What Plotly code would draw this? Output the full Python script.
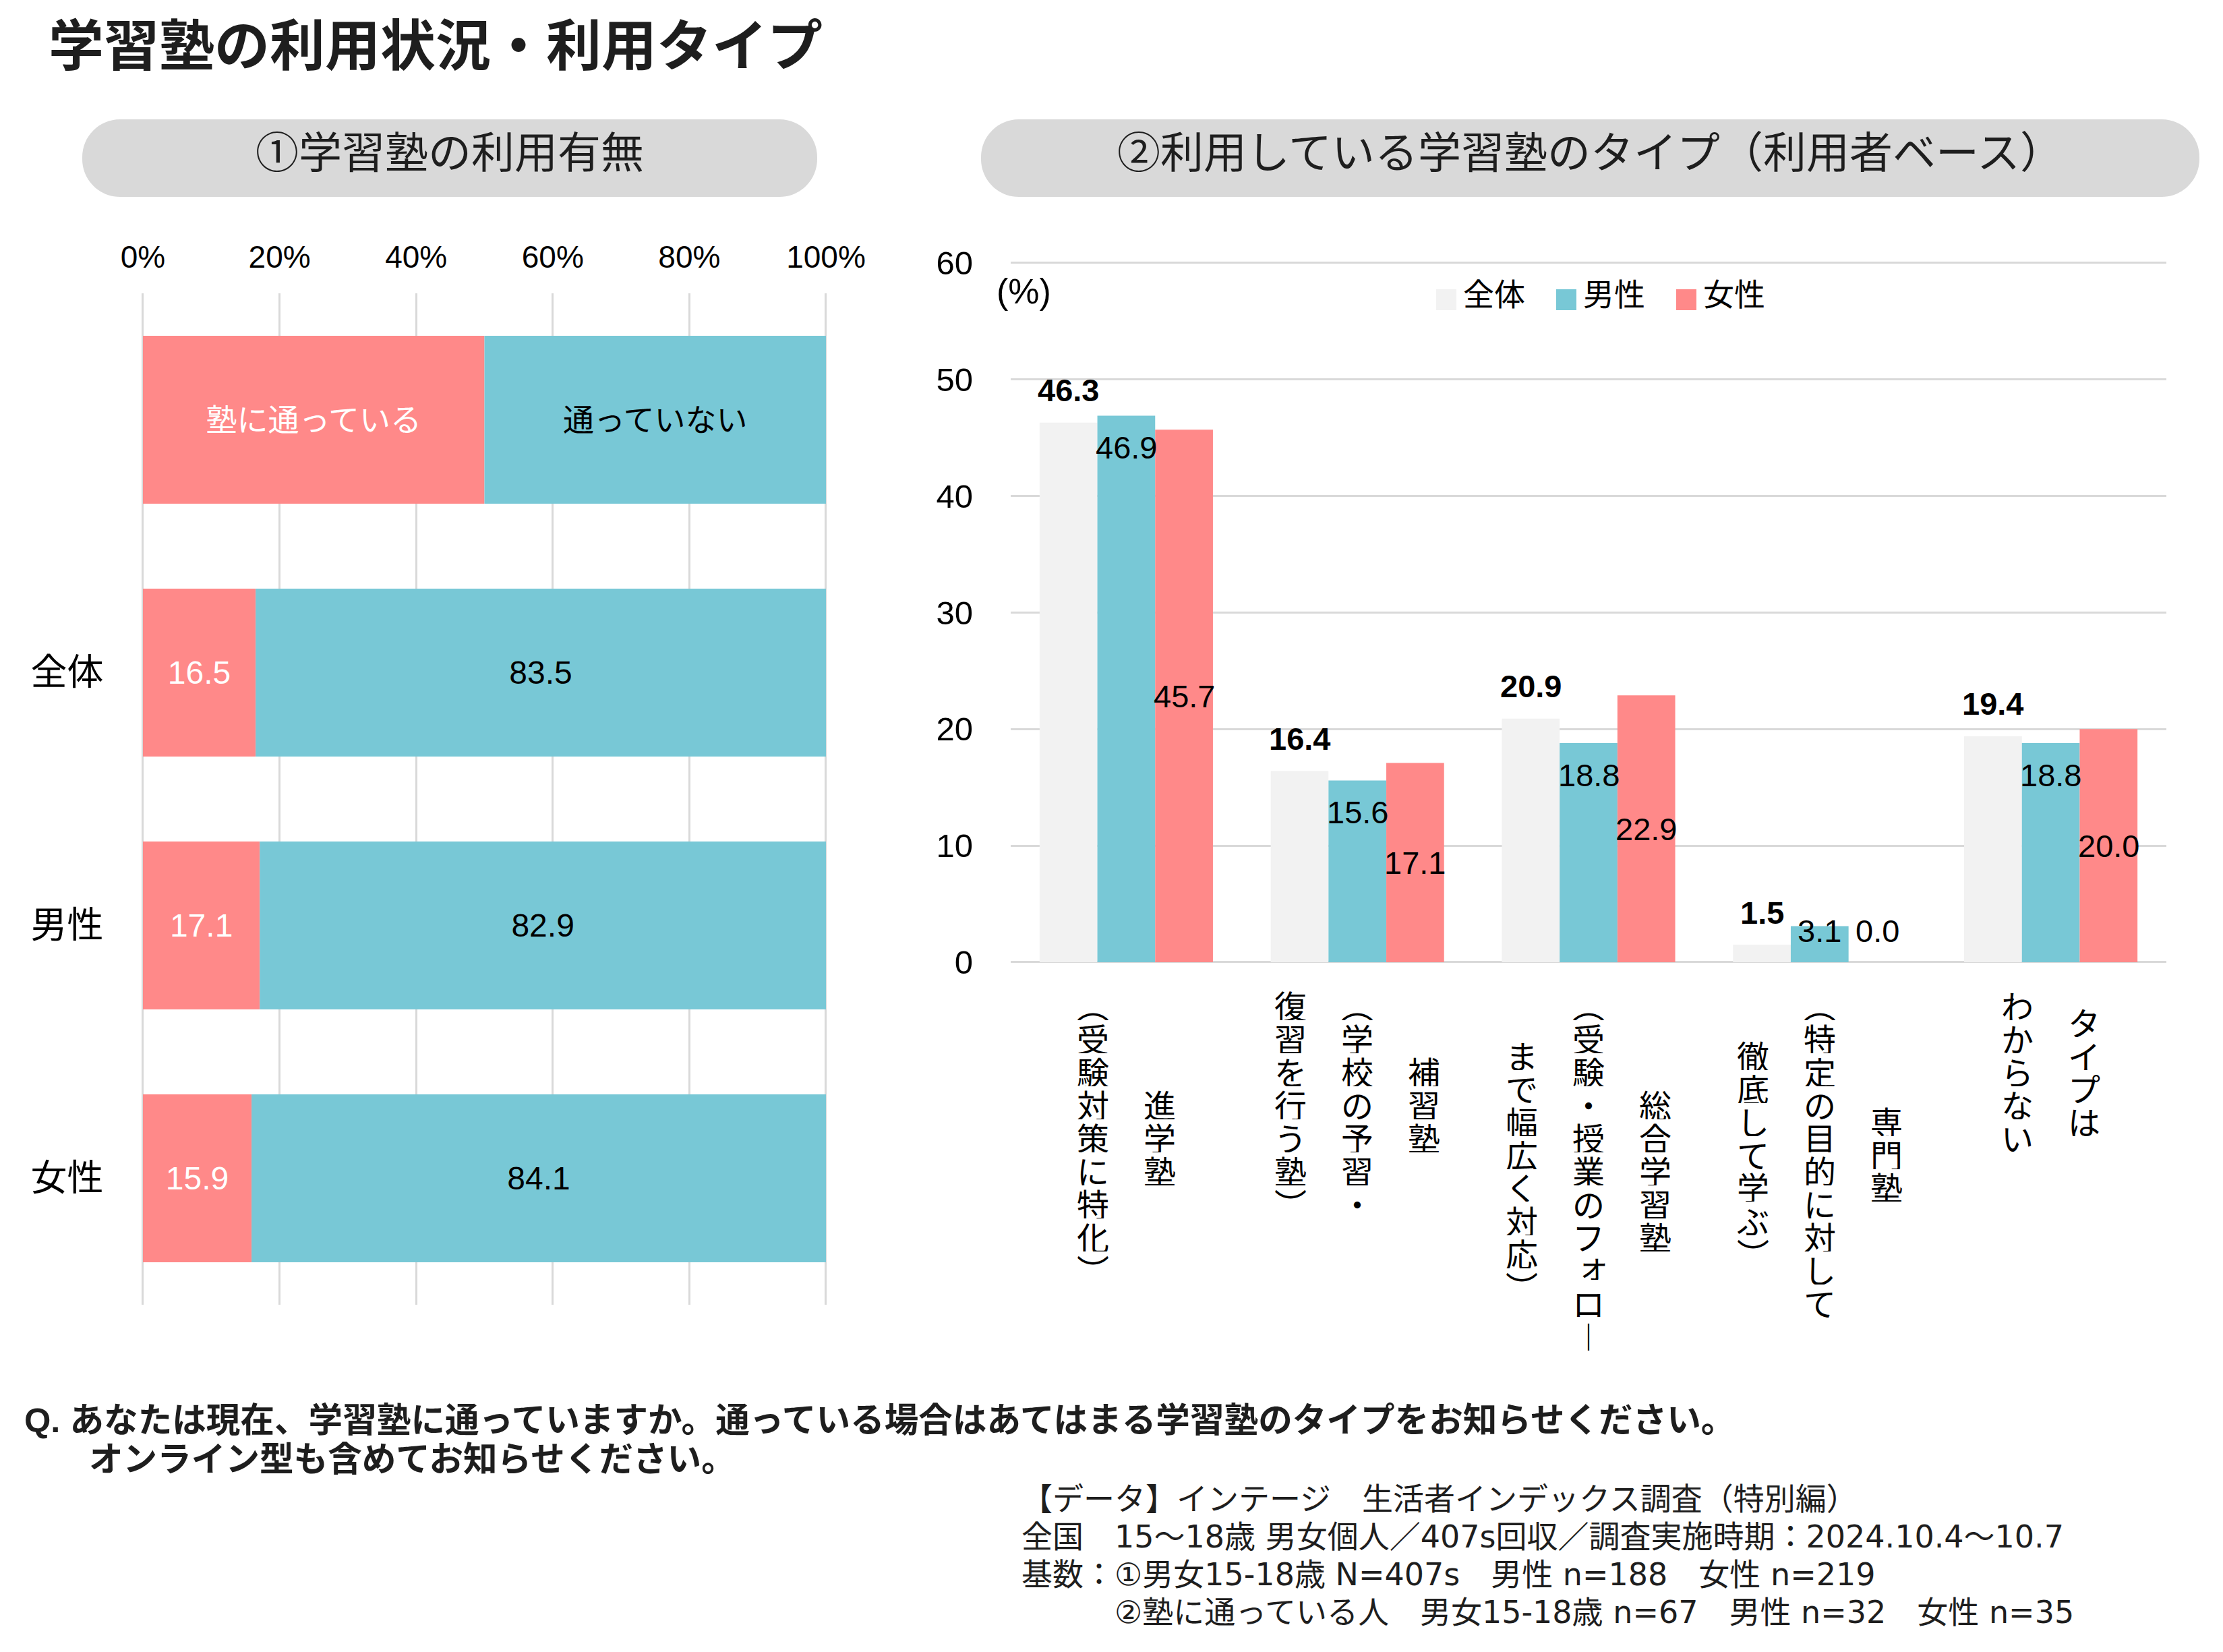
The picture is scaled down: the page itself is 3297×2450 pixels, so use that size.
import plotly.graph_objects as go

W, H = 3297, 2450

# ---------------- data ----------------
usage_rows = ["全体", "男性", "女性"]
usage_attending = [16.5, 17.1, 15.9]
usage_not_attending = [83.5, 82.9, 84.1]
usage_key_labels = ["塾に通っている", "通っていない"]
usage_ticks = [0, 20, 40, 60, 80, 100]

type_categories = ["進学塾", "補習塾", "総合学習塾", "専門塾", "タイプはわからない"]
type_label_columns = [
    ["進学塾", "（受験対策に特化）"],
    ["補習塾", "（学校の予習・", "復習を行う塾）"],
    ["総合学習塾", "（受験・授業のフォロー", "まで幅広く対応）"],
    ["専門塾", "（特定の目的に対して", "徹底して学ぶ）"],
    ["タイプは", "わからない"],
]
type_series = ["全体", "男性", "女性"]
type_all = [46.3, 16.4, 20.9, 1.5, 19.4]
type_male = [46.9, 15.6, 18.8, 3.1, 18.8]
type_female = [45.7, 17.1, 22.9, 0.0, 20.0]
type_ticks = [0, 10, 20, 30, 40, 50, 60]

title_text = "学習塾の利用状況・利用タイプ"
panel1_title = "①学習塾の利用有無"
panel2_title = "②利用している学習塾のタイプ（利用者ベース）"
question_lines = [
    "Q. あなたは現在、学習塾に通っていますか。通っている場合はあてはまる学習塾のタイプをお知らせください。",
    "オンライン型も含めてお知らせください。",
]
source_lines = [
    "【データ】インテージ　生活者インデックス調査（特別編）",
    "全国　15～18歳 男女個人／407s回収／調査実施時期：2024.10.4～10.7",
    "基数：①男女15-18歳 N=407s　男性 n=188　女性 n=219",
    "　　　②塾に通っている人　男女15-18歳 n=67　男性 n=32　女性 n=35",
]

# ---------------- styles ----------------
PINK = "#FF8989"
TEAL = "#78C8D6"
LIGHT = "#F2F2F2"
GRID = "#D9D9D9"
PILL = "#D9D9D9"
TXT = "#1E1E1E"
FONT = "Liberation Sans, Noto Sans CJK JP, sans-serif"
JFONT = "Noto Sans CJK JP, sans-serif"
SFONT = "DejaVu Sans, Noto Sans CJK JP, sans-serif"
series_colors = [LIGHT, TEAL, PINK]


def px(x):
    return x / W


def py(y):
    return 1 - y / H


# layout geometry (pixels)
L_X0, L_X1, L_Y0, L_Y1 = 212, 1225, 435, 1935
R_X0, R_X1, R_Y0, R_Y1 = 1499, 3213, 390, 1427
BARGAP = 0.25
BAR_FRAC = 0.664

# small range padding so edge gridlines are drawn
L_PAD = 0.25
l_ppu = (L_X1 - L_X0) / 100.0
L_DOM = [px(L_X0 - L_PAD * l_ppu), px(L_X1 + L_PAD * l_ppu)]
R_PAD = 0.15
r_ppu = (R_Y1 - R_Y0) / 60.0
R_DOM_Y = [py(R_Y1), py(R_Y0 - R_PAD * r_ppu)]

fig = go.Figure()

# ---------- left chart: usage ----------
KEY = "key"
fig.add_trace(go.Bar(
    y=[KEY], x=[50], base=[0], orientation="h",
    marker=dict(color=PINK, line=dict(width=0)),
    width=BAR_FRAC, offset=-BAR_FRAC / 2,
    text=[usage_key_labels[0]], textposition="inside", insidetextanchor="middle",
    textfont=dict(color="white", size=46, family=FONT), textangle=0,
    constraintext="none", showlegend=False, hoverinfo="skip",
    xaxis="x", yaxis="y"))
fig.add_trace(go.Bar(
    y=[KEY], x=[50], base=[50], orientation="h",
    marker=dict(color=TEAL, line=dict(width=0)),
    width=BAR_FRAC, offset=-BAR_FRAC / 2,
    text=[usage_key_labels[1]], textposition="inside", insidetextanchor="middle",
    textfont=dict(color="black", size=46, family=FONT), textangle=0,
    constraintext="none", showlegend=False, hoverinfo="skip",
    xaxis="x", yaxis="y"))
fig.add_trace(go.Bar(
    y=usage_rows, x=usage_attending, base=[0] * len(usage_rows), orientation="h",
    marker=dict(color=PINK, line=dict(width=0)),
    width=BAR_FRAC, offset=-BAR_FRAC / 2,
    text=[f"{v:.1f}" for v in usage_attending], textposition="inside",
    insidetextanchor="middle", textangle=0, constraintext="none",
    textfont=dict(color="white", size=48, family=FONT),
    showlegend=False, xaxis="x", yaxis="y"))
fig.add_trace(go.Bar(
    y=usage_rows, x=usage_not_attending, base=usage_attending, orientation="h",
    marker=dict(color=TEAL, line=dict(width=0)),
    width=BAR_FRAC, offset=-BAR_FRAC / 2,
    text=[f"{v:.1f}" for v in usage_not_attending], textposition="inside",
    insidetextanchor="middle", textangle=0, constraintext="none",
    textfont=dict(color="black", size=48, family=FONT),
    showlegend=False, xaxis="x", yaxis="y"))

# ---------- right chart: types ----------
for name, vals, col in zip(type_series, [type_all, type_male, type_female], series_colors):
    fig.add_trace(go.Bar(
        x=type_categories, y=vals, name=name,
        marker=dict(color=col, line=dict(width=0)),
        showlegend=False, xaxis="x2", yaxis="y2"))

annotations = []
shapes = []

# value labels on right chart
ppu = r_ppu
group_px = (R_X1 - R_X0) / len(type_categories)
slot_px = group_px * (1 - BARGAP) / 3
min_units = 46 / ppu
for i, cat in enumerate(type_categories):
    annotations.append(dict(
        x=cat, xref="x2", y=type_all[i] + 48 / ppu, yref="y2",
        xshift=-slot_px, text=f"<b>{type_all[i]:.1f}</b>", showarrow=False,
        xanchor="center", yanchor="middle", borderpad=0,
        font=dict(size=47, color="black", family=FONT)))
    annotations.append(dict(
        x=cat, xref="x2", y=max(type_male[i] - 47 / ppu, min_units), yref="y2",
        xshift=0, text=f"{type_male[i]:.1f}", showarrow=False,
        xanchor="center", yanchor="middle", borderpad=0,
        font=dict(size=47, color="black", family=FONT)))
    annotations.append(dict(
        x=cat, xref="x2", y=max(type_female[i] / 2, min_units), yref="y2",
        xshift=slot_px, text=f"{type_female[i]:.1f}", showarrow=False,
        xanchor="center", yanchor="middle", borderpad=0,
        font=dict(size=47, color="black", family=FONT)))

# vertical category labels (one character per annotation, top-to-bottom,
# columns right-to-left)
VMAP = {"（": "︵", "）": "︶", "ー": "︱"}
SMALL = set("ぁぃぅぇぉっゃゅょァィゥェォッャュョ")
PITCH = 49
COLSTEP = 99
TOP = 1465
for i, cat in enumerate(type_categories):
    cols = type_label_columns[i]
    n = len(cols)
    maxlen = max(len(c) for c in cols)
    center = TOP + maxlen * PITCH / 2
    for j, col in enumerate(cols):
        xs = ((n - 1) / 2 - j) * COLSTEP
        for k, ch in enumerate(col):
            yy = center + (k - (len(col) - 1) / 2) * PITCH
            dx, dy = 0, 0
            if ch in SMALL:
                dx, dy = 7, 7
            annotations.append(dict(
                x=cat, xref="x2", xshift=xs + dx, y=py(yy), yref="paper", yshift=dy,
                text=VMAP.get(ch, ch), showarrow=False, xanchor="center", yanchor="middle",
                height=PITCH - 2, width=52, valign="middle", borderpad=0,
                font=dict(size=48, color="black", family=JFONT)))

# legend for right chart (manual)
for s, (name, col) in enumerate(zip(type_series, series_colors)):
    sx = 2130 + s * 178
    shapes.append(dict(type="rect", xref="paper", yref="paper",
                       x0=px(sx), x1=px(sx + 30), y0=py(460), y1=py(429),
                       fillcolor=col, line=dict(width=0)))
    annotations.append(dict(x=px(sx + 38), y=py(437), xref="paper", yref="paper",
                            text=name, showarrow=False, xanchor="left", yanchor="middle",
                            font=dict(size=46, color="black", family=FONT)))

# (%) label
annotations.append(dict(x=px(1476), y=py(432), xref="paper", yref="paper", text="(%)",
                        showarrow=False, xanchor="left", yanchor="middle",
                        font=dict(size=52, color="black", family=FONT)))


# pills
def rounded_rect(x0, y0, x1, y1, r):
    k = 0.5523 * r
    pts = [
        ("M", [(x0 + r, y0)]),
        ("L", [(x1 - r, y0)]),
        ("C", [(x1 - r + k, y0), (x1, y0 + r - k), (x1, y0 + r)]),
        ("L", [(x1, y1 - r)]),
        ("C", [(x1, y1 - r + k), (x1 - r + k, y1), (x1 - r, y1)]),
        ("L", [(x0 + r, y1)]),
        ("C", [(x0 + r - k, y1), (x0, y1 - r + k), (x0, y1 - r)]),
        ("L", [(x0, y0 + r)]),
        ("C", [(x0, y0 + r - k), (x0 + r - k, y0), (x0 + r, y0)]),
    ]
    out = ""
    for cmd, ps in pts:
        out += cmd + " ".join(f"{px(a):.6f},{py(b):.6f}" for a, b in ps) + " "
    return out + "Z"


for (x0, x1, ttl) in [(122, 1212, panel1_title), (1455, 3262, panel2_title)]:
    shapes.append(dict(type="path", xref="paper", yref="paper",
                       path=rounded_rect(x0, 177, x1, 292, 56),
                       fillcolor=PILL, line=dict(width=0), layer="below"))
    annotations.append(dict(x=px((x0 + x1) / 2), y=py(227), xref="paper", yref="paper",
                            text=ttl, showarrow=False, xanchor="center", yanchor="middle",
                            font=dict(size=64, color=TXT, family=FONT)))

# title
annotations.append(dict(x=px(70), y=py(62), xref="paper", yref="paper",
                        text=f"<b>{title_text}</b>", showarrow=False,
                        xanchor="left", yanchor="middle",
                        font=dict(size=82, color=TXT, family=JFONT)))

# question
annotations.append(dict(x=px(34), y=py(2106), xref="paper", yref="paper",
                        text=f"<b>{question_lines[0]}</b>", showarrow=False,
                        xanchor="left", yanchor="middle",
                        font=dict(size=50.6, color=TXT, family=FONT)))
annotations.append(dict(x=px(130), y=py(2164), xref="paper", yref="paper",
                        text=f"<b>{question_lines[1]}</b>", showarrow=False,
                        xanchor="left", yanchor="middle",
                        font=dict(size=50.6, color=TXT, family=FONT)))

# source (one annotation per line for exact line pitch)
SRC_Y0, SRC_PITCH = 2223, 56
for li, line in enumerate(source_lines):
    annotations.append(dict(x=px(1514), y=py(SRC_Y0 + li * SRC_PITCH), xref="paper",
                            yref="paper", text=line, showarrow=False,
                            xanchor="left", yanchor="middle", align="left",
                            height=SRC_PITCH - 2, valign="middle", borderpad=0,
                            font=dict(size=46, color=TXT, family=SFONT)))

fig.update_layout(
    template="none",
    width=W, height=H, autosize=False,
    margin=dict(l=0, r=0, t=0, b=0, pad=0, autoexpand=False),
    paper_bgcolor="white", plot_bgcolor="white",
    barmode="group", bargap=BARGAP, bargroupgap=0,
    font=dict(family=FONT, color="black"),
    xaxis=dict(domain=L_DOM, range=[-L_PAD, 100 + L_PAD], side="top",
               tickmode="array", tickvals=usage_ticks,
               ticktext=[f"{v}%" for v in usage_ticks],
               showgrid=True, gridcolor=GRID,
               gridwidth=3, zeroline=False, showline=False, ticks="",
               tickfont=dict(size=46, color="black", family=FONT),
               ticklabelstandoff=28, anchor="y", fixedrange=True, automargin=False),
    yaxis=dict(domain=[py(L_Y1), py(L_Y0)], type="category",
               categoryorder="array", categoryarray=[KEY] + usage_rows,
               tickmode="array", tickvals=[KEY] + usage_rows,
               ticktext=[""] + usage_rows,
               autorange="reversed", showgrid=False, zeroline=False, showline=False,
               ticks="", tickfont=dict(size=54, color="black", family=FONT),
               ticklabelstandoff=55, anchor="x", fixedrange=True, automargin=False),
    xaxis2=dict(domain=[px(R_X0), px(R_X1)], type="category",
                showticklabels=False, showgrid=False, zeroline=False, showline=False,
                ticks="", anchor="y2", fixedrange=True, automargin=False),
    yaxis2=dict(domain=R_DOM_Y, range=[0, 60 + R_PAD], tickmode="array",
                tickvals=type_ticks,
                showgrid=True, gridcolor=GRID, gridwidth=3, zeroline=True,
                zerolinecolor=GRID, zerolinewidth=3, showline=False, ticks="",
                tickfont=dict(size=49, color="black", family=FONT),
                ticklabelstandoff=55, anchor="x2", fixedrange=True, automargin=False),
    annotations=annotations,
    shapes=shapes,
)

fig.write_html("out.html")
